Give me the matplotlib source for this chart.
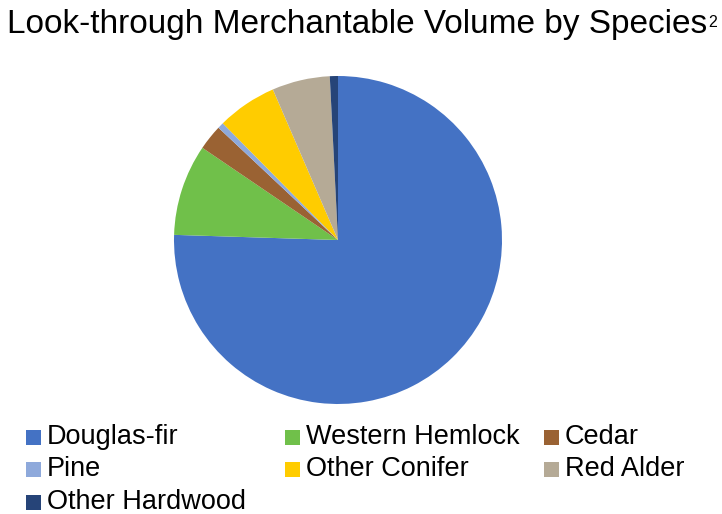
import matplotlib
matplotlib.use("Agg")
import matplotlib.pyplot as plt
from matplotlib.patches import Rectangle

plt.rcParams['font.family'] = ['Liberation Sans', 'DejaVu Sans']

# share of look-through merchantable volume, percent
species = ['Douglas-fir', 'Western Hemlock', 'Cedar', 'Pine',
           'Other Conifer', 'Red Alder', 'Other Hardwood']
volume_pct = [75.5, 9.0, 2.5, 0.6, 5.9, 5.7, 0.8]
colors = ['#4472C4', '#70C04A', '#9A6233', '#8EA9DB',
          '#FFCC00', '#B5AA96', '#264478']

W, H = 722, 514
fig = plt.figure(figsize=(W / 100, H / 100), dpi=100)

cx, cy, r = 338, 240, 164
ax = fig.add_axes([(cx - r) / W, (H - cy - r) / H, 2 * r / W, 2 * r / H])
ax.pie(volume_pct, colors=colors, startangle=90, counterclock=False,
       radius=1, wedgeprops=dict(linewidth=0))
ax.set_xlim(-1, 1)
ax.set_ylim(-1, 1)
ax.set_aspect('equal')
ax.axis('off')

title = fig.text(7 / W, 1 - 33 / H, 'Look-through Merchantable Volume by Species',
                 fontsize=24, va='baseline', ha='left')
ax.annotate('2', xy=(1, 1), xycoords=title, xytext=(0.5, -4.5),
            textcoords='offset points', fontsize=11.5,
            ha='left', va='top', annotation_clip=False)

# legend laid out row by row on a fixed column pitch (pixels)
col_x0, col_pitch = 26, 259
row_y0, row_pitch = 437, 32.5
box = 15
for i, (name, c) in enumerate(zip(species, colors)):
    row, col = divmod(i, 3)
    x = col_x0 + col * col_pitch
    y = row_y0 + row * row_pitch
    fig.add_artist(Rectangle((x / W, 1 - (y + box / 2) / H), box / W, box / H,
                             facecolor=c, edgecolor='none',
                             transform=fig.transFigure))
    fig.text((x + box + 6) / W, 1 - y / H, name, fontsize=19.5,
             va='center', ha='left')

fig.savefig('out.png', dpi=100)
